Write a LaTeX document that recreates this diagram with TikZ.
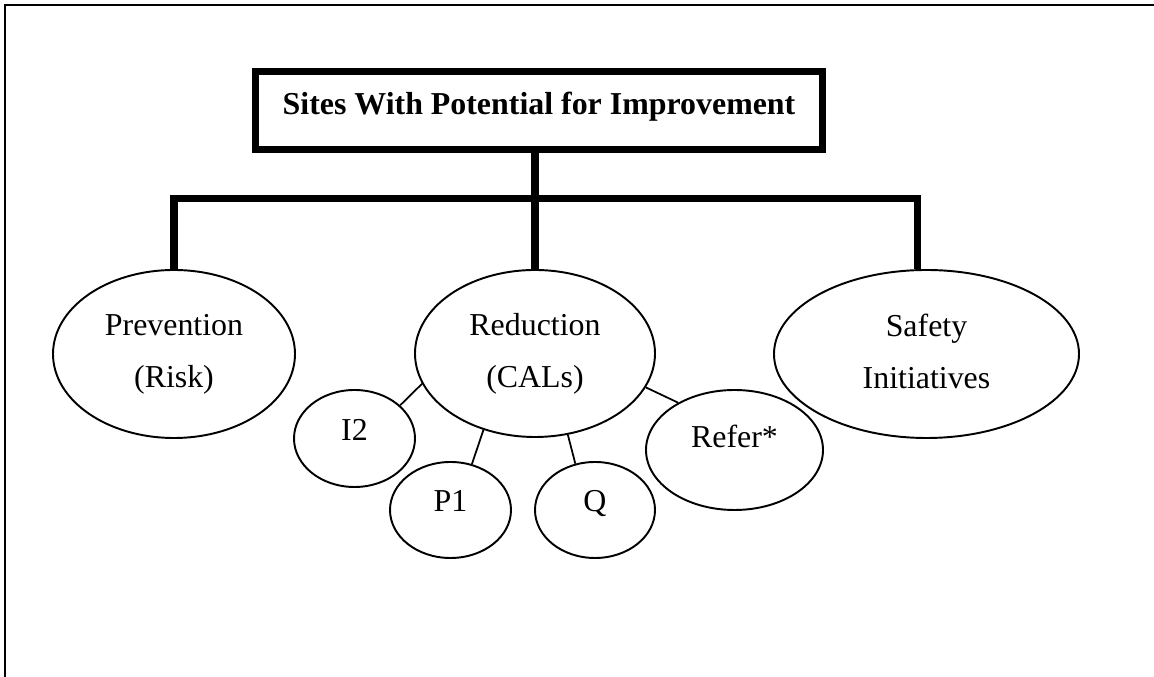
\documentclass[tikz,border=0pt]{standalone}
\usepackage{fontspec}
\setmainfont{Liberation Serif}
\usetikzlibrary{shapes.geometric,positioning,calc}
\newcommand{\diagfont}{\fontsize{18.15}{29.6}\selectfont}
\tikzset{
  topbox/.style={draw, line width=4pt, minimum width=11.34cm, minimum height=1.56cm, inner sep=0pt,
    font=\diagfont\bfseries, text height=0.68em, text depth=0.24em},
  bigoval/.style={ellipse, draw, line width=1.1pt, align=center, inner sep=0pt},
  smalloval/.style={ellipse, draw, line width=1.1pt, inner sep=0pt, text height=0.66em, text depth=0.44em},
  trunk/.style={line width=4pt},
  twig/.style={line width=1pt}
}

\begin{document}
\begin{tikzpicture}[font=\diagfont]
  \useasboundingbox (0,0) rectangle (23.08,13.54);
  % frame (top and left edge only)
  \draw[line width=1.3pt] (0.094,0) -- (0.094,13.446) -- (23.08,13.446);

  \node[topbox] (title) at (10.78,11.33) {Sites With Potential for Improvement};

  \node[bigoval, minimum width=4.84cm, minimum height=3.36cm] (prev) at (3.48,6.46) {Prevention\\(Risk)};
  \node[bigoval, minimum width=4.80cm, minimum height=3.34cm] (red) at (10.70,6.47) {Reduction\\(CALs)};
  \node[bigoval, minimum width=6.10cm, minimum height=3.36cm] (safe) at (18.53,6.46) {Safety\\Initiatives\rule[-0.15em]{0pt}{0pt}};

  \node[smalloval, minimum width=2.42cm, minimum height=1.94cm] (i2) at (7.09,4.77) {I2};
  \node[smalloval, minimum width=2.42cm, minimum height=1.92cm] (p1) at (9.01,3.34) {P1};
  \node[smalloval, minimum width=2.40cm, minimum height=1.92cm] (q) at (11.90,3.34) {Q};
  \node[smalloval, minimum width=3.54cm, minimum height=2.40cm, text depth=0.91em] (refer) at (14.69,4.54) {Refer*};

  % thick tree
  \coordinate (bus) at (10.70,9.57);
  \draw[trunk] (red.north |- title.south) -- (red.north);
  \draw[trunk] (prev.north) |- (bus) -| (safe.96);

  % thin links
  \draw[twig] (red.195) -- (i2.36);
  \draw[twig] (red.236) -- (p1.65);
  \draw[twig] (red.292) -- (q.113);
  \draw[twig] (red.343) -- (refer.140);
\end{tikzpicture}
\end{document}
